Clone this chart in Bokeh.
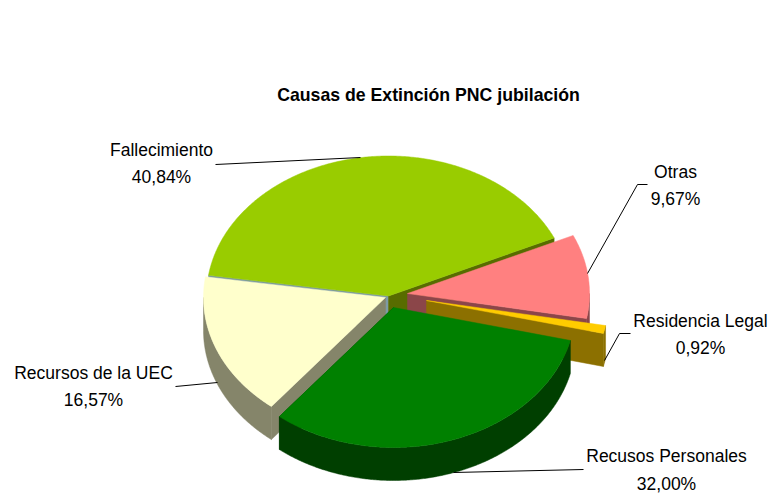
import numpy as np
from bokeh.plotting import figure
from bokeh.models import Range1d
from bokeh.embed import file_html
from bokeh.resources import INLINE

W, H = 769, 493

title = "Causas de Extinción PNC jubilación"
names = ["Fallecimiento", "Recursos de la UEC", "Recusos Personales", "Residencia Legal", "Otras"]
shares = [40.84, 16.57, 32.00, 0.92, 9.67]
labels = ["40,84%", "16,57%", "32,00%", "0,92%", "9,67%"]
top_colors = ["#99CC00", "#FFFFCC", "#008000", "#FFCC00", "#FF8080"]
side_colors = ["#586C00", "#85856A", "#003F00", "#8C7000", "#8B4649"]
apex_x = [388, 385, 393, 426, 407]
apex_y = [295.5, 297, 307, 300, 293]

RX, RY, DEPTH = 182, 140, 33
START = 24.5
draw_order = [0, 4, 3, 1, 2]

p = figure(width=W, height=H, output_backend="svg", toolbar_location=None,
           x_range=Range1d(0, W), y_range=Range1d(H, 0),
           min_border=0, outline_line_color=None)
p.axis.visible = False
p.grid.visible = False

spans = np.array(shares) / sum(shares) * 360
ends = START + np.cumsum(spans)
starts = ends - spans

def rim(i, a, b):
    t = np.radians(np.linspace(a, b, max(2, int(abs(b - a)) * 2)))
    return apex_x[i] + RX * np.cos(t), apex_y[i] - RY * np.sin(t)

def radial_side(i, ang):
    x, y = rim(i, ang, ang)
    ax, ay = apex_x[i], apex_y[i]
    return [ax, x[0], x[0], ax], [ay, y[0], y[0] + DEPTH, ay + DEPTH]

for i in draw_order:
    a, b = starts[i], ends[i]
    side = side_colors[i]
    if i == 0:
        xs, ys = radial_side(i, b)
        p.patch(xs, ys, fill_color="#7D9BA5", line_color="#7D9BA5", line_width=0.5)
    if i == 1:
        xs, ys = radial_side(i, b)
    else:
        xs, ys = radial_side(i, a)
    p.patch(xs, ys, fill_color=side, line_color=side, line_width=0.5)
    for lo, hi in [(180, 360), (540, 720)]:
        s, e = max(a, lo), min(b, hi)
        if e > s:
            x, y = rim(i, s, e)
            p.patch(np.r_[x, x[::-1]], np.r_[y, y[::-1] + DEPTH],
                    fill_color=side, line_color=side, line_width=0.5)
    x, y = rim(i, a, b)
    p.patch(np.r_[apex_x[i], x], np.r_[apex_y[i], y], fill_color=top_colors[i],
            line_color=top_colors[i], line_width=0.5)

leaders = [
    ([215, 360], [164, 157]),
    ([175, 217], [386, 382]),
    ([583, 453], [469, 472]),
    ([630, 619, 604], [333, 333, 360]),
    ([647, 637, 587], [184, 184, 273]),
]
for lx, ly in leaders:
    p.line(lx, ly, line_color="#000000", line_width=1)

FONT = "Liberation Sans"
SIZE = "17.5px"
label_x = [161, 93, 666, 700, 675]
name_y = [149, 372, 455, 320, 171]
pct_y = [176, 399, 483, 347, 198]
for i in range(5):
    p.text([label_x[i]], [name_y[i]], text=[names[i]], text_font={"value": FONT}, text_font_size=SIZE,
           text_align="center", text_baseline="middle", text_color="#000000")
    p.text([label_x[i]], [pct_y[i]], text=[labels[i]], text_font={"value": FONT}, text_font_size=SIZE,
           text_align="center", text_baseline="middle", text_color="#000000")
p.text([428], [94], text=[title], text_font={"value": FONT}, text_font_size="17.7px", text_font_style="bold",
       text_align="center", text_baseline="middle", text_color="#000000")

open("out.html", "w").write(file_html(p, INLINE))
